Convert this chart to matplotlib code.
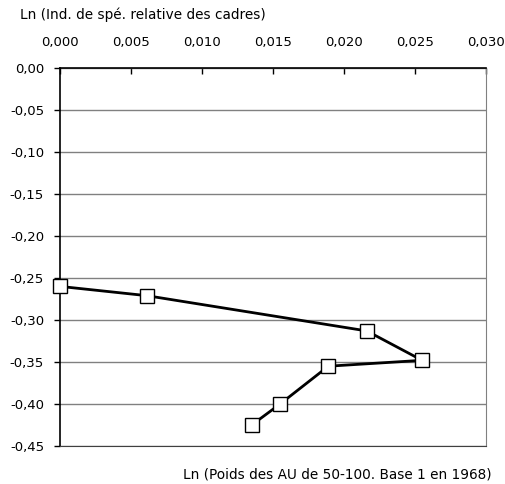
import matplotlib
matplotlib.use("Agg")
import matplotlib.pyplot as plt
from matplotlib.ticker import FuncFormatter

x_vals = [0.0000, 0.0061, 0.0216, 0.0255, 0.0189, 0.0155, 0.0135]
y_vals = [-0.260, -0.271, -0.313, -0.348, -0.355, -0.400, -0.425]
x_ticks = [0.000, 0.005, 0.010, 0.015, 0.020, 0.025, 0.030]
y_ticks = [0.00, -0.05, -0.10, -0.15, -0.20, -0.25, -0.30, -0.35, -0.40, -0.45]
y_title = "Ln (Ind. de spé. relative des cadres)"
x_title = "Ln (Poids des AU de 50-100. Base 1 en 1968)"

plt.rcParams['font.family'] = ['DejaVu Sans']
fs = 9.5

fig = plt.figure(figsize=(5.06, 4.84), dpi=100)
ax = fig.add_axes([60/506, 1-446/484, 426/506, 378/484])

ax.plot(x_vals, y_vals, color='black', lw=2.0, marker='s', ms=10,
        mfc='white', mec='black', mew=1.0, zorder=3, clip_on=False)

ax.set_xlim(0, 0.030)
ax.set_ylim(-0.45, 0.0)
ax.set_xticks(x_ticks)
ax.set_yticks(y_ticks)
ax.xaxis.tick_top()
ax.xaxis.set_major_formatter(FuncFormatter(lambda v, p: f"{v:.3f}".replace('.', ',')))
ax.yaxis.set_major_formatter(FuncFormatter(lambda v, p: f"{v:.2f}".replace('.', ',')))
ax.tick_params(axis='x', direction='in', length=4, width=1, labelsize=fs, pad=13.5, top=True, bottom=False)
ax.tick_params(axis='y', direction='out', length=4.5, width=1, labelsize=fs, pad=7)
ax.grid(axis='y', color='#808080', lw=1.0)
ax.set_axisbelow(True)
for s in ['left', 'top']:
    ax.spines[s].set_color('black')
    ax.spines[s].set_linewidth(1.2)
ax.spines['right'].set_color('#808080')
ax.spines['bottom'].set_color('#404040')

fig.text(20/506, 1-15/484, y_title, fontsize=9.8, ha='left', va='center')
fig.text(492/506, 1-475/484, x_title, fontsize=9.8, ha='right', va='center')

fig.savefig("out.png", dpi=100)
